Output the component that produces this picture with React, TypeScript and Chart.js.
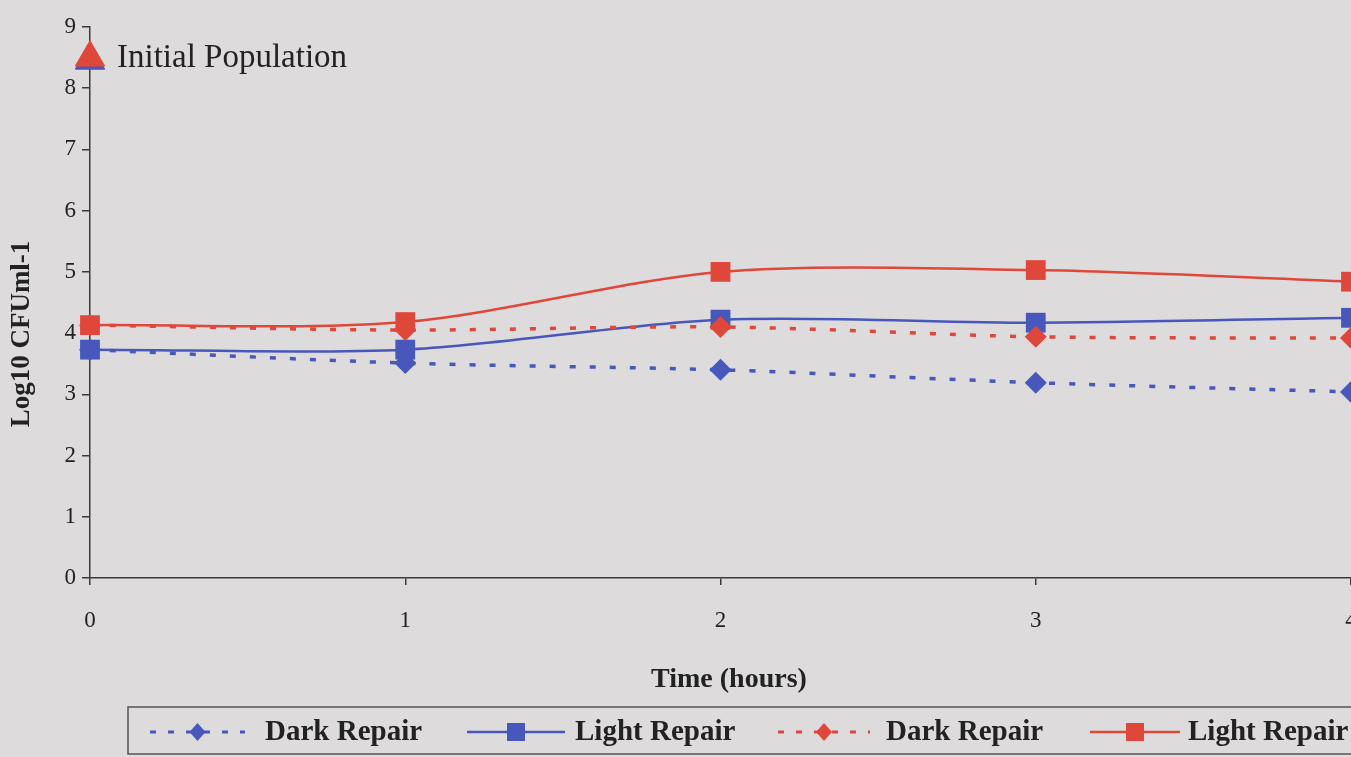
import React, { useEffect, useRef } from "react";
import { Chart, registerables } from "chart.js";

Chart.register(...registerables);

const hours = [0, 1, 2, 3, 4];
const darkRepairBlue = [3.73, 3.51, 3.4, 3.19, 3.04];
const lightRepairBlue = [3.73, 3.73, 4.22, 4.17, 4.25];
const darkRepairRed = [4.13, 4.05, 4.1, 3.94, 3.92];
const lightRepairRed = [4.13, 4.18, 5.0, 5.03, 4.84];
const initialPopulation = 8.5;
const initialLabel = "Initial Population";
const legendLabels = ["Dark Repair", "Light Repair", "Dark Repair", "Light Repair"];
const xTitle = "Time (hours)";
const yTitle = "Log10 CFUml-1";

const BLUE = "#4857bb";
const RED = "#e0473b";
const BG = "#dedbdc";
const AXIS = "#3a3a3a";
const FONT = "'Liberation Serif', 'DejaVu Serif', serif";

const pts = (ys: number[]) => hours.map((x, i) => ({ x, y: ys[i] }));

const decorPlugin = {
  id: "decor",
  beforeDraw(chart: any) {
    const { ctx, width, height } = chart;
    ctx.save();
    ctx.fillStyle = BG;
    ctx.fillRect(0, 0, width, height);
    ctx.restore();
  },
  afterDraw(chart: any) {
    const { ctx, scales } = chart;
    const xs = scales.x;
    const ys = scales.y;
    ctx.save();
    // Initial population label
    ctx.fillStyle = "#222";
    ctx.font = `33px ${FONT}`;
    ctx.textAlign = "left";
    ctx.textBaseline = "middle";
    ctx.fillText(initialLabel, xs.getPixelForValue(0) + 27, ys.getPixelForValue(initialPopulation) + 1);

    // Y title
    ctx.save();
    ctx.translate(22, 334);
    ctx.rotate(-Math.PI / 2);
    ctx.font = `bold 27px ${FONT}`;
    ctx.textAlign = "center";
    ctx.textBaseline = "middle";
    ctx.fillText(yTitle, 0, 0);
    ctx.restore();

    // X title
    ctx.font = `bold 28px ${FONT}`;
    ctx.textAlign = "center";
    ctx.textBaseline = "middle";
    ctx.fillText(xTitle, 729, 680);

    // Legend box
    ctx.strokeStyle = "#555";
    ctx.lineWidth = 1.5;
    ctx.strokeRect(128, 707, 1240, 47);
    const cy = 732;
    const items = [
      { x0: 150, x1: 245, color: BLUE, dash: [6, 12], marker: "diamond", tx: 265 },
      { x0: 467, x1: 565, color: BLUE, dash: [], marker: "square", tx: 575 },
      { x0: 778, x1: 870, color: RED, dash: [6, 12], marker: "diamond", tx: 886 },
      { x0: 1090, x1: 1180, color: RED, dash: [], marker: "square", tx: 1188 },
    ];
    items.forEach((it, i) => {
      ctx.strokeStyle = it.color;
      ctx.lineWidth = it.dash.length ? 3 : 2.5;
      ctx.setLineDash(it.dash);
      ctx.beginPath();
      ctx.moveTo(it.x0, cy);
      ctx.lineTo(it.x1, cy);
      ctx.stroke();
      ctx.setLineDash([]);
      const mx = (it.x0 + it.x1) / 2;
      ctx.fillStyle = it.color;
      ctx.beginPath();
      if (it.marker === "diamond") {
        ctx.moveTo(mx, cy - 9);
        ctx.lineTo(mx + 8, cy);
        ctx.lineTo(mx, cy + 9);
        ctx.lineTo(mx - 8, cy);
        ctx.closePath();
      } else {
        ctx.rect(mx - 9, cy - 9, 18, 18);
      }
      ctx.fill();
      ctx.fillStyle = "#222";
      ctx.font = `bold 29px ${FONT}`;
      ctx.textAlign = "left";
      ctx.textBaseline = "middle";
      ctx.fillText(legendLabels[i], it.tx, cy + 1);
    });
    ctx.restore();
  },
};

export default function App() {
  const ref = useRef<HTMLCanvasElement | null>(null);
  useEffect(() => {
    document.body.style.margin = "0";
    document.body.style.background = BG;
    const canvas = ref.current!;
    const chart = new Chart(canvas, {
      type: "line",
      data: {
        datasets: [
          {
            label: "Initial Population",
            data: [{ x: 0, y: initialPopulation }],
            showLine: false,
            pointStyle: "triangle",
            pointRadius: 17,
            pointBackgroundColor: RED,
            pointBorderColor: RED,
            pointBorderWidth: 1,
            clip: false,
          },
          {
            label: "Initial Population base",
            data: [{ x: 0, y: initialPopulation - 0.05 }],
            showLine: false,
            pointStyle: "triangle",
            pointRadius: 17,
            pointBackgroundColor: BLUE,
            pointBorderColor: BLUE,
            clip: false,
          },
          {
            label: legendLabels[3],
            data: pts(lightRepairRed),
            borderColor: RED,
            backgroundColor: RED,
            borderWidth: 2.5,
            tension: 0.3,
            pointStyle: "rect",
            pointRadius: 14,
            pointBackgroundColor: RED,
            pointBorderColor: RED,
            pointBorderWidth: 0,
            clip: false,
          },
          {
            label: legendLabels[2],
            data: pts(darkRepairRed),
            borderColor: RED,
            backgroundColor: RED,
            borderWidth: 3.5,
            borderDash: [6, 14],
            tension: 0.3,
            pointStyle: "rectRot",
            pointRadius: 11,
            pointBackgroundColor: RED,
            pointBorderColor: RED,
            pointBorderWidth: 0,
            clip: false,
          },
          {
            label: legendLabels[1],
            data: pts(lightRepairBlue),
            borderColor: BLUE,
            backgroundColor: BLUE,
            borderWidth: 2.5,
            tension: 0.3,
            pointStyle: "rect",
            pointRadius: 14,
            pointBackgroundColor: BLUE,
            pointBorderColor: BLUE,
            pointBorderWidth: 0,
            clip: false,
          },
          {
            label: legendLabels[0],
            data: pts(darkRepairBlue),
            borderColor: BLUE,
            backgroundColor: BLUE,
            borderWidth: 3.5,
            borderDash: [6, 14],
            tension: 0.3,
            pointStyle: "rectRot",
            pointRadius: 11,
            pointBackgroundColor: BLUE,
            pointBorderColor: BLUE,
            pointBorderWidth: 0,
            clip: false,
          },
        ],
      },
      options: {
        animation: false,
        responsive: false,
        devicePixelRatio: 1,
        layout: { autoPadding: false, padding: { top: 27, right: 0, left: 0, bottom: 0 } },
        plugins: {
          legend: { display: false },
          tooltip: { enabled: false },
          title: { display: false },
        },
        scales: {
          x: {
            type: "linear",
            min: 0,
            max: 4,
            border: { color: AXIS, width: 1.5 },
            grid: { drawOnChartArea: false, tickLength: 7, color: AXIS, lineWidth: 1.5 },
            ticks: {
              stepSize: 1,
              padding: 22,
              color: "#222",
              font: { family: FONT, size: 23 },
            },
            afterFit: (s: any) => {
              s.height = 179;
              s.paddingLeft = 0;
              s.paddingRight = 0;
            },
          },
          y: {
            type: "linear",
            min: 0,
            max: 9,
            border: { color: AXIS, width: 1.5 },
            grid: { drawOnChartArea: false, tickLength: 8, color: AXIS, lineWidth: 1.5 },
            ticks: {
              stepSize: 1,
              padding: 6,
              color: "#222",
              font: { family: FONT, size: 23 },
            },
            afterFit: (s: any) => {
              s.width = 90;
            },
          },
        },
      },
      plugins: [decorPlugin],
    });
    return () => chart.destroy();
  }, []);
  return <canvas ref={ref} width={1351} height={757} style={{ display: "block" }} />;
}
